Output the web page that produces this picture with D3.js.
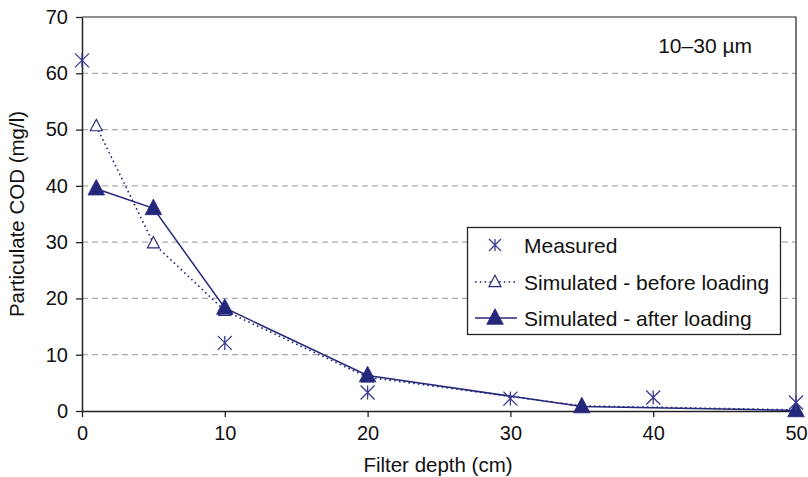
<!DOCTYPE html>
<html>
<head>
<meta charset="utf-8">
<script src="https://cdn.jsdelivr.net/npm/d3@7/dist/d3.min.js"></script>
<style>
  html, body { margin: 0; padding: 0; background: #fff; }
  svg { display: block; }
  text { font-family: "Liberation Sans", Arial, Helvetica, sans-serif; fill: #111; }
</style>
</head>
<body>
<svg id="chart" width="808" height="477"></svg>
<script>
// Particulate COD along the filter depth, 10–30 µm fraction
const measuredDepth = [0, 10, 20, 30, 40, 50];
const measuredCOD   = [62.3, 12.1, 3.3, 2.2, 2.4, 1.5];

const simDepth          = [1, 5, 10, 20, 35, 50];
const simBeforeLoading  = [50.6, 29.8, 17.8, 6.0, 0.9, 0.2];
const simAfterLoading   = [39.5, 36.0, 18.3, 6.3, 0.8, 0.1];

const xTicks = [0, 10, 20, 30, 40, 50];
const yTicks = [0, 10, 20, 30, 40, 50, 60, 70];

const seriesNames = ["Measured", "Simulated - before loading", "Simulated - after loading"];
const sizeLabel = "10–30 µm";
const xTitle = "Filter depth (cm)";
const yTitle = "Particulate COD (mg/l)";

const navy = "#25287a";
const starColor = "#3b3d90";

const svg = d3.select("#chart");
const margin = { left: 82, top: 17, right: 12, bottom: 66 };
const W = 808, H = 477;
const x = d3.scaleLinear().domain([0, 50]).range([margin.left, W - margin.right]);
const y = d3.scaleLinear().domain([0, 70]).range([H - margin.bottom, margin.top]);

// dashed horizontal gridlines
svg.append("g").selectAll("line").data(yTicks.filter(v => v > 0 && v < 70)).join("line")
  .attr("x1", x(0)).attr("x2", x(50))
  .attr("y1", d => y(d)).attr("y2", d => y(d))
  .attr("stroke", "#aaaaaa").attr("stroke-width", 1.2)
  .attr("stroke-dasharray", "6,4");

// frame (top and right)
svg.append("path")
  .attr("d", `M${x(0)},${y(70)}H${x(50)}V${y(0)}`)
  .attr("fill", "none").attr("stroke", "#222").attr("stroke-width", 1.2);

// axes
const xAxis = svg.append("g").attr("transform", `translate(0,${y(0)})`)
  .call(d3.axisBottom(x).tickValues(xTicks).tickSize(6).tickPadding(9).tickSizeOuter(0));
const yAxis = svg.append("g").attr("transform", `translate(${x(0)},0)`)
  .call(d3.axisLeft(y).tickValues(yTicks).tickSize(6).tickPadding(8).tickSizeOuter(0));
[xAxis, yAxis].forEach(g => {
  g.select(".domain").attr("stroke", "#222").attr("stroke-width", 1.5);
  g.selectAll(".tick line").attr("stroke", "#222").attr("stroke-width", 1.3);
  g.selectAll(".tick text").attr("font-size", 20)
    .attr("font-family", "Liberation Sans, Arial, sans-serif").attr("fill", "#111");
});

// axis titles
svg.append("text").attr("x", x(25) - 1).attr("y", 472).attr("text-anchor", "middle")
  .attr("font-size", 20.5).text(xTitle);
svg.append("text").attr("transform", `translate(24,${(y(0) + y(70)) / 2}) rotate(-90)`)
  .attr("text-anchor", "middle").attr("font-size", 20.5).text(yTitle);

// size fraction label
svg.append("text").attr("x", 752).attr("y", 53).attr("text-anchor", "end")
  .attr("font-size", 21).text(sizeLabel);

// marker helpers
const triPath = (cx, cy, s) => `M${cx},${cy - s * 0.62}L${cx + s * 0.55},${cy + s * 0.42}L${cx - s * 0.55},${cy + s * 0.42}Z`;
const starPath = (cx, cy, r) =>
  `M${cx - r},${cy - r}L${cx + r},${cy + r}M${cx - r},${cy + r}L${cx + r},${cy - r}M${cx},${cy - r}V${cy + r}`;

const line = d3.line().x(d => x(d[0])).y(d => y(d[1]));
const before = simDepth.map((d, i) => [d, simBeforeLoading[i]]);
const after = simDepth.map((d, i) => [d, simAfterLoading[i]]);
const measured = measuredDepth.map((d, i) => [d, measuredCOD[i]]);

// simulated before loading: dotted line, open triangles
svg.append("path").attr("d", line(before)).attr("fill", "none")
  .attr("stroke", navy).attr("stroke-width", 1.6).attr("stroke-dasharray", "1.6,3.2");
svg.append("g").selectAll("path").data(before).join("path")
  .attr("d", d => triPath(x(d[0]), y(d[1]), 11))
  .attr("fill", "#fff").attr("stroke", navy).attr("stroke-width", 1.1);

// simulated after loading: solid line, filled triangles
svg.append("path").attr("d", line(after)).attr("fill", "none")
  .attr("stroke", navy).attr("stroke-width", 1.5);
svg.append("g").selectAll("path").data(after).join("path")
  .attr("d", d => triPath(x(d[0]), y(d[1]), 15))
  .attr("fill", navy).attr("stroke", navy).attr("stroke-width", 0.8);

// measured: asterisks
svg.append("g").selectAll("path").data(measured).join("path")
  .attr("d", d => starPath(x(d[0]), y(d[1]), 7))
  .attr("fill", "none").attr("stroke", starColor).attr("stroke-width", 1.3);

// legend
const lg = svg.append("g");
lg.append("rect").attr("x", 467.5).attr("y", 227.5).attr("width", 313).attr("height", 107)
  .attr("fill", "#fff").attr("stroke", "#222").attr("stroke-width", 1.3);
const rows = [245, 282, 318];
const mx = 495;
lg.append("path").attr("d", starPath(mx, rows[0], 6)).attr("fill", "none")
  .attr("stroke", starColor).attr("stroke-width", 1.3);
lg.append("line").attr("x1", 475).attr("x2", 517).attr("y1", rows[1]).attr("y2", rows[1])
  .attr("stroke", navy).attr("stroke-width", 1.6).attr("stroke-dasharray", "1.6,3.2");
lg.append("path").attr("d", triPath(mx, rows[1], 11)).attr("fill", "#fff")
  .attr("stroke", navy).attr("stroke-width", 1.1);
lg.append("line").attr("x1", 475).attr("x2", 517).attr("y1", rows[2]).attr("y2", rows[2])
  .attr("stroke", navy).attr("stroke-width", 1.5);
lg.append("path").attr("d", triPath(mx, rows[2], 15)).attr("fill", navy)
  .attr("stroke", navy).attr("stroke-width", 0.8);
lg.selectAll("text.lbl").data(seriesNames).join("text").attr("class", "lbl")
  .attr("x", 524).attr("y", (d, i) => rows[i] + 7.5).attr("font-size", 21).text(d => d);
</script>
</body>
</html>
